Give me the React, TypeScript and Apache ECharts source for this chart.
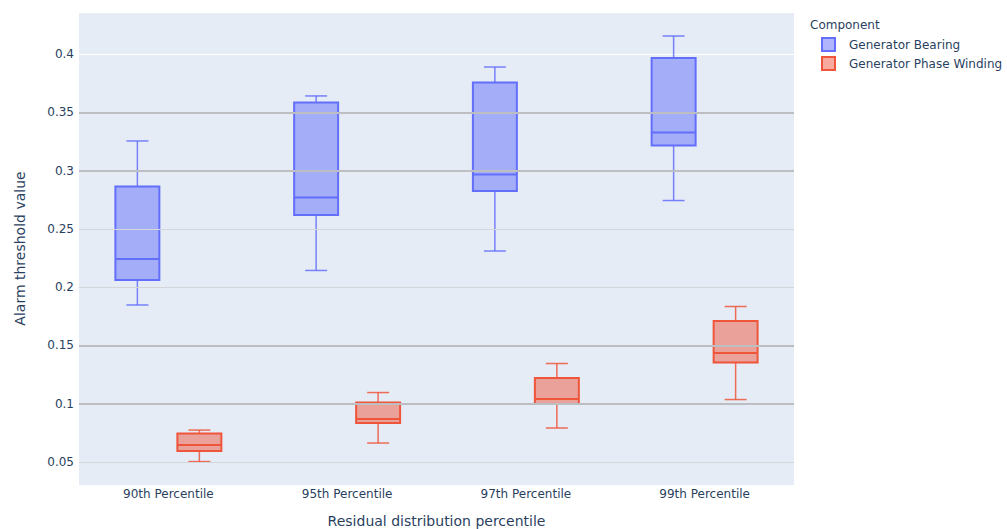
import React, { useEffect, useRef } from "react";
import * as echarts from "echarts";

const categories = ["90th Percentile", "95th Percentile", "97th Percentile", "99th Percentile"];
const seriesNames = ["Generator Bearing", "Generator Phase Winding"];

// [min, q1, median, q3, max]
const bearingMin = [0.1847, 0.2143, 0.231, 0.2743];
const bearingQ1 = [0.2061, 0.2619, 0.2825, 0.3215];
const bearingMedian = [0.2241, 0.2769, 0.2966, 0.3327];
const bearingQ3 = [0.2863, 0.3584, 0.3756, 0.3966];
const bearingMax = [0.3254, 0.364, 0.3888, 0.4154];

const windingMin = [0.0504, 0.0663, 0.0792, 0.1036];
const windingQ1 = [0.0594, 0.0835, 0.0997, 0.1354];
const windingMedian = [0.0646, 0.0869, 0.104, 0.1435];
const windingQ3 = [0.0744, 0.101, 0.1221, 0.171];
const windingMax = [0.0774, 0.1096, 0.1345, 0.1834];

const strongLines = [0.1, 0.15, 0.3, 0.35];
const lightLines = [0.05, 0.2, 0.25];

const yMin = 0.0303;
const yMax = 0.436;

const FONT = 'Verdana, "DejaVu Sans", sans-serif';
const TEXT = "#2a3f5f";

function buildData(mn: number[], q1: number[], md: number[], q3: number[], mx: number[]) {
  return categories.map((_, i) => [i, mn[i], q1[i], md[i], q3[i], mx[i]]);
}

function makeRender(offset: number, stroke: string, fill: string) {
  return (params: any, api: any) => {
    const i = api.value(0);
    const band = api.size([1, 0])[0];
    const c = api.coord([i, api.value(1)]);
    const cx = c[0] + offset * band;
    const bw = band * 0.246;
    const cw = band * 0.123;
    const yMinP = api.coord([i, api.value(1)])[1];
    const yQ1 = api.coord([i, api.value(2)])[1];
    const yMed = api.coord([i, api.value(3)])[1];
    const yQ3 = api.coord([i, api.value(4)])[1];
    const yMaxP = api.coord([i, api.value(5)])[1];
    const ls = { stroke, lineWidth: 1.5, fill: null, opacity: 0.85 };
    const bs = { stroke, lineWidth: 2, fill: null };
    return {
      type: "group",
      children: [
        { type: "line", shape: { x1: cx, y1: yQ3, x2: cx, y2: yMaxP }, style: ls },
        { type: "line", shape: { x1: cx, y1: yQ1, x2: cx, y2: yMinP }, style: ls },
        { type: "line", shape: { x1: cx - cw / 2, y1: yMaxP, x2: cx + cw / 2, y2: yMaxP }, style: ls },
        { type: "line", shape: { x1: cx - cw / 2, y1: yMinP, x2: cx + cw / 2, y2: yMinP }, style: ls },
        {
          type: "rect",
          shape: { x: cx - bw / 2, y: yQ3, width: bw, height: yQ1 - yQ3 },
          style: { fill, stroke, lineWidth: 2 },
        },
        { type: "line", shape: { x1: cx - bw / 2, y1: yMed, x2: cx + bw / 2, y2: yMed }, style: bs },
      ],
    };
  };
}

export default function App() {
  const ref = useRef<HTMLDivElement>(null);
  useEffect(() => {
    if (!ref.current) return;
    const chart = echarts.init(ref.current, undefined, { renderer: "svg" });
    const blue = "#636efa";
    const red = "#EF553B";
    const blueFill = "rgba(99,110,250,0.5)";
    const redFill = "rgba(239,85,59,0.5)";
    chart.setOption({
      animation: false,
      backgroundColor: "#ffffff",
      textStyle: { fontFamily: FONT },
      grid: {
        left: 79,
        top: 12,
        width: 715,
        height: 473,
        show: true,
        backgroundColor: "#E5ECF6",
        borderWidth: 0,
        outerBoundsMode: "none",
        containLabel: false,
      },
      xAxis: {
        type: "category",
        data: categories,
        name: "Residual distribution percentile",
        nameLocation: "middle",
        nameGap: 29,
        nameTextStyle: { color: TEXT, fontSize: 14, fontFamily: FONT },
        axisLine: { show: false },
        axisTick: { show: false },
        axisLabel: { color: TEXT, fontSize: 12, margin: 3, fontFamily: FONT },
        splitLine: { show: false },
      },
      yAxis: {
        type: "value",
        min: yMin,
        max: yMax,
        splitNumber: 8,
        name: "Alarm threshold value",
        nameLocation: "middle",
        nameGap: 52,
        nameTextStyle: { color: TEXT, fontSize: 14, fontFamily: FONT },
        axisLine: { show: false },
        axisTick: { show: false },
        axisLabel: { color: TEXT, fontSize: 12, margin: 5, showMinLabel: false, showMaxLabel: false, fontFamily: FONT },
        splitLine: { show: true, lineStyle: { color: "#ffffff", width: 1 } },
      },
      legend: {
        orient: "vertical",
        left: 816,
        top: 32,
        itemWidth: 13,
        itemHeight: 13,
        itemGap: 4,
        icon: "rect",
        textStyle: { color: TEXT, fontSize: 12, fontFamily: FONT, padding: [0, 0, 0, 9] },
        data: [
          { name: seriesNames[0], itemStyle: { color: blueFill, borderColor: blue, borderWidth: 2 } },
          { name: seriesNames[1], itemStyle: { color: redFill, borderColor: red, borderWidth: 2 } },
        ],
        selectedMode: false,
      },
      graphic: [
        {
          type: "text",
          left: 810,
          top: 19,
          style: { text: "Component", fill: TEXT, fontSize: 12, fontFamily: FONT },
        },
      ],
      series: [
        {
          type: "line",
          data: [],
          z: 1,
          silent: true,
          markLine: {
            silent: true,
            symbol: "none",
            label: { show: false },
            data: [
              ...lightLines.map((v) => ({ yAxis: v, lineStyle: { color: "#d4d6da", width: 1, type: "solid" } })),
              ...strongLines.map((v) => ({ yAxis: v, lineStyle: { color: "#bdbec2", width: 2, type: "solid" } })),
            ],
          },
        },
        {
          name: seriesNames[0],
          type: "custom",
          z: 3,
          itemStyle: { color: blueFill, borderColor: blue },
          encode: { x: 0, y: [1, 2, 3, 4, 5] },
          renderItem: makeRender(-0.1734, blue, blueFill),
          data: buildData(bearingMin, bearingQ1, bearingMedian, bearingQ3, bearingMax),
        },
        {
          name: seriesNames[1],
          type: "custom",
          z: 3,
          itemStyle: { color: redFill, borderColor: red },
          encode: { x: 0, y: [1, 2, 3, 4, 5] },
          renderItem: makeRender(0.1734, red, redFill),
          data: buildData(windingMin, windingQ1, windingMedian, windingQ3, windingMax),
        },
      ],
    });
    return () => chart.dispose();
  }, []);
  return (
    <div
      ref={ref}
      style={{ position: "fixed", left: 0, top: 0, width: 1007, height: 529 }}
    />
  );
}
